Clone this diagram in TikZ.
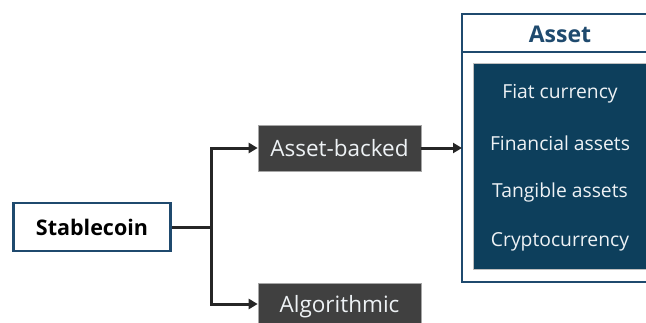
\documentclass[tikz,border=0pt]{standalone}
\usepackage{fontspec}
\setmainfont{Open Sans}
\usetikzlibrary{arrows.meta}
\definecolor{navy}{HTML}{1F4A6E}
\definecolor{deepblue}{HTML}{0D3F5C}
\definecolor{slate}{HTML}{404040}
\definecolor{wire}{HTML}{262626}
\definecolor{paletext}{HTML}{EEF2F5}
\tikzset{
  rootbox/.style={draw=navy, line width=2.5pt, fill=white, minimum width=157pt, minimum height=48pt,
    font=\fontsize{21.5}{24}\selectfont\bfseries, inner sep=0pt},
  kindbox/.style={draw=gray!70, line width=0.6pt, fill=slate, text=paletext, minimum width=163pt, minimum height=46pt,
    font=\fontsize{22.5}{26}\selectfont, inner sep=0pt},
  item/.style={text=paletext, font=\fontsize{19.3}{22}\selectfont, inner sep=0pt},
  conn/.style={draw=wire, line width=3pt},
  arr/.style={conn, -{Triangle[length=9pt,width=10pt]}}
}
\begin{document}
\begin{tikzpicture}[x=1pt,y=-1pt]
\useasboundingbox (0,0) rectangle (646,322);
\clip (0,0) rectangle (646,322);
% asset group frame
\draw[navy, line width=2pt, fill=white] (462,14) rectangle (680,282);
\draw[navy, line width=1.5pt] (462,52) -- (680,52);
\node[text=navy, font=\fontsize{23}{26}\selectfont\bfseries] (head) at (560,34) {Asset};
\node[fill=deepblue, draw=gray!50, line width=1pt, minimum width=200pt, minimum height=206pt, inner sep=0pt, anchor=north west] (pool) at (473,63) {};
\node[item] (fiat) at (560,94) {Fiat currency};
\node[item] (fin) at (560,143) {Financial assets};
\node[item] (tang) at (560,192) {Tangible assets};
\node[item] (crypto) at (560,242) {Cryptocurrency};
\coordinate (assetin) at (462,148);
% classification nodes
\node[rootbox] (stable) at (92,227) {Stablecoin};
\node[kindbox] (backed) at (339.5,148) {Asset-backed};
\node[kindbox, minimum height=42pt, text depth=0pt] (algo) at (339.5,304) {Algorithmic};
% connectors
\coordinate (split) at (211,227);
\draw[conn] (stable.east) -- (split);
\draw[arr] (split) |- (backed.west);
\draw[arr] (split) |- (algo.west);
\draw[arr] (backed.east) -- (assetin);
\end{tikzpicture}
\end{document}
